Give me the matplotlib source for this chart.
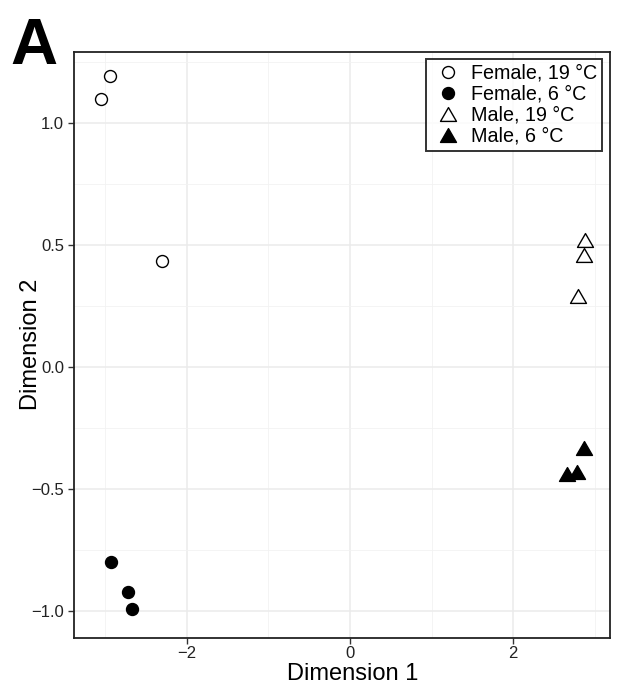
import matplotlib
matplotlib.use('Agg')
import matplotlib.pyplot as plt
from matplotlib.path import Path

plt.rcParams['font.family'] = ['Liberation Sans', 'DejaVu Sans']

# MDS coordinates
female_19_x = [-3.06, -2.94, -2.31]
female_19_y = [1.096, 1.193, 0.434]
female_6_x = [-2.93, -2.72, -2.68]
female_6_y = [-0.80, -0.922, -0.994]
male_19_x = [2.88, 2.87, 2.80]
male_19_y = [0.52, 0.458, 0.29]
male_6_x = [2.87, 2.79, 2.66]
male_6_y = [-0.334, -0.433, -0.44]

x_ticks = [-2, 0, 2]
y_ticks = [-1.0, -0.5, 0.0, 0.5, 1.0]

# closed equilateral triangle, like R's pch 2 / 17
tri = Path([(-1, -0.866), (1, -0.866), (0, 0.866), (0, 0)], closed=True)

fig = plt.figure(figsize=(6.25, 6.84), dpi=100)
ax = fig.add_axes([73.7 / 625, 1 - 637.5 / 684, (610 - 73.7) / 625, (637.5 - 52) / 684])

ax.set_xlim(-3.39, 3.19)
ax.set_ylim(-1.11, 1.29)

ax.set_xticks(x_ticks)
ax.set_yticks(y_ticks)
ax.set_xticks([-3, -1, 1, 3], minor=True)
ax.set_yticks([-0.75, -0.25, 0.25, 0.75, 1.25], minor=True)
ax.set_xticklabels(['\u22122', '0', '2'])
ax.set_yticklabels(['\u22121.0', '\u22120.5', '0.0', '0.5', '1.0'])
ax.grid(True, which='major', color='#EBEBEB', lw=1.1)
ax.grid(True, which='minor', color='#F2F2F2', lw=0.6)
ax.set_axisbelow(True)
ax.tick_params(which='major', length=4, width=1, color='#333333', labelsize=12, labelcolor='#222222', pad=3)
ax.tick_params(axis='x', which='major', pad=2)
ax.tick_params(which='minor', length=0)
for s in ax.spines.values():
    s.set_color('#222222')
    s.set_linewidth(1.3)

ax.plot(female_19_x, female_19_y, 'o', ms=8.6, mfc='white', mec='black', mew=1.0, ls='none', label='Female, 19 \u00b0C')
ax.plot(female_6_x, female_6_y, 'o', ms=8.6, mfc='black', mec='black', mew=1.0, ls='none', label='Female, 6 \u00b0C')
ax.plot(male_19_x, male_19_y, marker=tri, ms=11.5, mfc='white', mec='black', mew=1.0, ls='none', label='Male, 19 \u00b0C')
ax.plot(male_6_x, male_6_y, marker=tri, ms=11.5, mfc='black', mec='black', mew=1.0, ls='none', label='Male, 6 \u00b0C')

ax.set_xlabel('Dimension 1', fontsize=17)
ax.set_ylabel('Dimension 2', fontsize=17)
ax.xaxis.set_label_coords(0.52, -0.043)
ax.yaxis.set_label_coords(-0.060, 0.5)

leg = ax.legend(loc='upper right', bbox_to_anchor=(0.985, 0.988), borderaxespad=0,
                fontsize=14.2, frameon=True, fancybox=False, edgecolor='black',
                handlelength=1.7, handletextpad=0.3, labelspacing=0.1, borderpad=0.25)
leg.get_frame().set_linewidth(1.4)

fig.text(10 / 625, 1 - 64 / 684, 'A', fontsize=47, fontweight='bold', ha='left', va='baseline')

fig.savefig('out.png', dpi=100)
